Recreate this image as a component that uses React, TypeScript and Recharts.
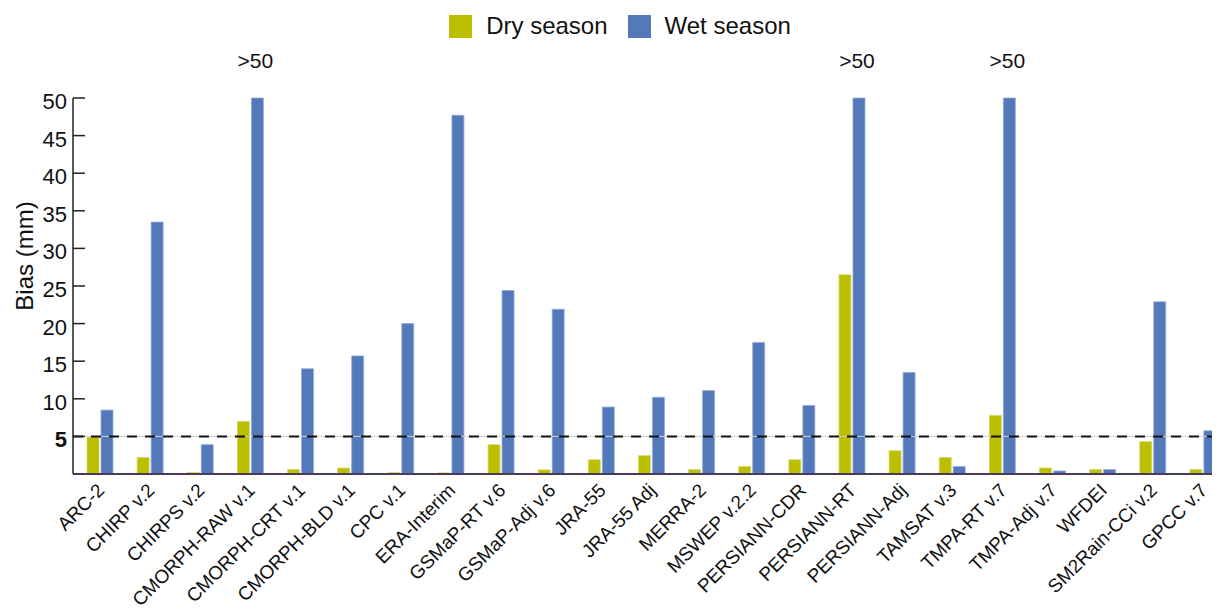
import React from "react";
import { Bar, BarChart, LabelList, Legend, ReferenceLine, XAxis, YAxis } from "recharts";

const categories = [
  "ARC-2", "CHIRP v.2", "CHIRPS v.2", "CMORPH-RAW v.1", "CMORPH-CRT v.1", "CMORPH-BLD v.1",
  "CPC v.1", "ERA-Interim", "GSMaP-RT v.6", "GSMaP-Adj v.6", "JRA-55", "JRA-55 Adj",
  "MERRA-2", "MSWEP v.2.2", "PERSIANN-CDR", "PERSIANN-RT", "PERSIANN-Adj", "TAMSAT v.3",
  "TMPA-RT v.7", "TMPA-Adj v.7", "WFDEI", "SM2Rain-CCi v.2", "GPCC v.7",
];
const drySeason = [4.9, 2.2, 0.2, 7.0, 0.6, 0.8, 0.2, 0.15, 3.9, 0.55, 1.9, 2.45, 0.6, 1.0, 1.9, 26.5, 3.1, 2.2, 7.8, 0.8, 0.6, 4.3, 0.6];
// bars cut at the top of the axis (real bias is above 50 mm)
const wetSeason = [8.5, 33.5, 3.9, 50, 14.0, 15.7, 20.0, 47.7, 24.4, 21.9, 8.9, 10.2, 11.1, 17.5, 9.1, 50, 13.5, 1.0, 50, 0.4, 0.6, 22.9, 5.75];
const overLimit = ["CMORPH-RAW v.1", "PERSIANN-RT", "TMPA-RT v.7"];
const yTicks = [5, 10, 15, 20, 25, 30, 35, 40, 45, 50];
const threshold = 5;

const DRY = "#bbbf00";
const WET = "#5479ba";
const FONT = '"Liberation Sans", Arial, sans-serif';
const AXIS_X = 73;

const rows = categories.map((name, i) => ({
  name,
  dry: drySeason[i],
  wet: wetSeason[i],
  over: overLimit.includes(name) ? ">50" : "",
}));

function YTick(props: any) {
  const { x, y, payload } = props;
  return (
    <g>
      <line x1={AXIS_X} x2={AXIS_X + 12} y1={y} y2={y} stroke="#222" strokeWidth={1.5} />
      <text
        x={x}
        y={y + 11}
        textAnchor="end"
        fontSize={22}
        fontFamily={FONT}
        fontWeight={payload.value === threshold ? "bold" : "normal"}
        fill="#111"
      >
        {payload.value}
      </text>
    </g>
  );
}

function XTick(props: any) {
  const { x, y, payload } = props;
  const tx = x - 4;
  const ty = y + 2;
  return (
    <text
      x={tx}
      y={ty}
      dy="0.71em"
      textAnchor="end"
      transform={`rotate(-45 ${tx} ${ty})`}
      fontSize={19}
      fontFamily={FONT}
      fill="#111"
    >
      {payload.value}
    </text>
  );
}

function LegendBox() {
  const items = [
    { label: "Dry season", color: DRY },
    { label: "Wet season", color: WET },
  ];
  return (
    <div style={{ height: 40, display: "flex", justifyContent: "center", alignItems: "center", fontFamily: FONT, fontSize: 24, color: "#111" }}>
      {items.map((it) => (
        <div key={it.label} style={{ display: "flex", alignItems: "center", margin: "0 10px" }}>
          <span style={{ width: 23, height: 23, background: it.color, marginRight: 14, display: "inline-block" }} />
          <span>{it.label}</span>
        </div>
      ))}
    </div>
  );
}

function OverLabel(props: any) {
  const { x, y, width, value } = props;
  if (!value) return null;
  return (
    <text x={x + width / 2 - 2} y={y - 30} textAnchor="middle" fontSize={21} fontFamily={FONT} fill="#111">
      {value}
    </text>
  );
}

export default function App() {
  return (
    <div style={{ margin: -8, width: 1220, height: 615, overflow: "hidden", position: "relative", background: "#fff" }}>
      <BarChart width={1230} height={615} data={rows} margin={{ top: 58, right: 2, left: 0, bottom: 0 }} barSize={12} barGap={2}>
        <Legend verticalAlign="top" content={() => <LegendBox />} wrapperStyle={{ top: 6, left: 0, width: 1240 }} />
        <XAxis
          dataKey="name"
          interval={0}
          height={141}
          tickLine={false}
          tickSize={0}
          tickMargin={6}
          padding={{ left: 2, right: 0 }}
          axisLine={{ stroke: "#4a3a5c", strokeWidth: 2 }}
          tick={<XTick />}
        />
        <YAxis
          type="number"
          domain={[0, 50]}
          ticks={yTicks}
          interval={0}
          width={73}
          tickLine={false}
          tickSize={0}
          tickMargin={6}
          axisLine={{ stroke: "#222", strokeWidth: 1.5 }}
          tick={<YTick />}
          label={{
            content: () => (
              <text x={24} y={256} transform="rotate(-90 24 256)" textAnchor="middle" dominantBaseline="central" fontSize={24} fontFamily={FONT} fill="#111">
                Bias (mm)
              </text>
            ),
          }}
        />
        <ReferenceLine y={threshold} stroke="#d0d0d0" strokeWidth={1} />
        <Bar dataKey="dry" name="Dry season" fill={DRY} stroke="#d6d870" strokeWidth={0.8} isAnimationActive={false} />
        <Bar dataKey="wet" name="Wet season" fill={WET} stroke="#93acd8" strokeWidth={0.8} isAnimationActive={false}>
          <LabelList dataKey="over" content={<OverLabel />} />
        </Bar>
        <ReferenceLine y={threshold} stroke="#111" strokeWidth={2} strokeDasharray="10 8" ifOverflow="extendDomain" />
      </BarChart>
    </div>
  );
}
